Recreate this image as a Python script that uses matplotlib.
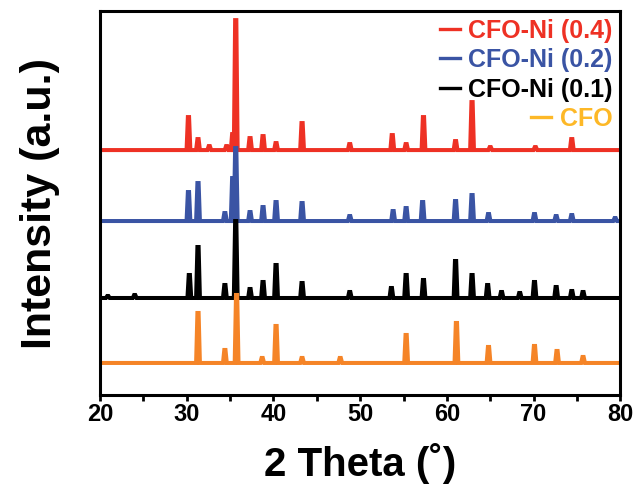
import numpy as np
import matplotlib
matplotlib.use('Agg')
import matplotlib.pyplot as plt

plt.rcParams['font.family'] = ['Liberation Sans', 'DejaVu Sans']
plt.rcParams['font.weight'] = 'bold'

# peak positions (2 theta) and heights above each baseline (a.u.)
labels = ['CFO-Ni (0.4)', 'CFO-Ni (0.2)', 'CFO-Ni (0.1)', 'CFO']
offsets = [245, 174, 97, 32]

pos_04 = [30.2, 31.3, 32.6, 34.6, 35.3, 35.65, 37.3, 38.8, 40.3, 43.3, 48.8,
          53.7, 55.3, 57.3, 61.0, 62.9, 65.0, 70.2, 74.4]
h_04 = [33, 11, 4, 4, 16, 130, 12, 14, 7, 27, 6,
        15, 6, 33, 9, 48, 3, 3, 11]

pos_02 = [30.2, 31.3, 34.4, 35.3, 35.65, 37.3, 38.8, 40.3, 43.3, 48.8,
          53.8, 55.3, 57.2, 61.0, 62.9, 64.8, 70.1, 72.6, 74.4, 79.4]
h_02 = [29, 38, 8, 43, 73, 9, 14, 19, 18, 5,
        10, 13, 19, 20, 26, 7, 7, 5, 6, 3]

pos_01 = [20.9, 24.0, 30.3, 31.3, 34.4, 35.65, 37.3, 38.8, 40.3, 43.3, 48.8,
          53.6, 55.3, 57.3, 61.0, 62.9, 64.7, 66.3, 68.4, 70.1, 72.6, 74.4, 75.7]
h_01 = [2, 3, 23, 51, 13, 77, 9, 16, 33, 15, 6,
        10, 23, 18, 37, 23, 13, 6, 5, 16, 11, 7, 6]

pos_cfo = [31.3, 34.4, 35.75, 38.7, 40.3, 43.3, 47.7, 55.3, 61.1, 64.8,
           70.1, 72.7, 75.7]
h_cfo = [50, 13, 68, 5, 37, 5, 5, 28, 40, 16, 17, 12, 6]

line_colors = ['#EE3124', '#3A54A4', '#000000', '#F58427']
legend_colors = ['#EE3124', '#3A54A4', '#000000', '#FDB827']


def pattern(pos, h, base, lo=20, hi=80, hw=0.22, top=0.07):
    """polyline of narrow peaks sitting on a flat baseline"""
    xs, ys = [lo], [base]
    for p, v in sorted(zip(pos, h)):
        xs += [p - hw, p - top, p + top, p + hw]
        ys += [base, base + v, base + v, base]
    xs.append(hi)
    ys.append(base)
    return np.array(xs), np.array(ys)


fig = plt.figure(figsize=(6.33, 4.84), dpi=100)
ax = fig.add_axes([0.158, 0.184, 0.822, 0.793])

series = [(pos_04, h_04), (pos_02, h_02), (pos_01, h_01), (pos_cfo, h_cfo)]
for (pos, h), off, c, lab in zip(series, offsets, line_colors, labels):
    x, y = pattern(pos, h, off)
    ax.plot(x, y, color=c, lw=2.9, label=lab, solid_joinstyle='miter')

ax.set_xlim(20, 80)
ax.set_ylim(0, 384)
ax.set_xticks(np.arange(20, 81, 10))
ax.set_xticks(np.arange(25, 80, 10), minor=True)
ax.set_yticks([])
ax.tick_params(axis='x', which='both', direction='out', length=4, width=2,
               labelsize=17, pad=2)
for lab in ax.get_xticklabels():
    lab.set_fontweight('bold')
for sp in ax.spines.values():
    sp.set_linewidth(2.2)

ax.set_xlabel('2 Theta (\u02da)', fontsize=29, fontweight='bold', labelpad=12)
ax.set_ylabel('Intensity (a.u.)', fontsize=31, fontweight='bold', labelpad=29)

leg = ax.legend(loc='upper right', frameon=False, fontsize=18,
                handlelength=0.8, handletextpad=0.35, labelspacing=0.22,
                borderpad=0.15, borderaxespad=0.15)
for t, c in zip(leg.get_texts(), legend_colors):
    t.set_color(c)
    t.set_fontweight('bold')
for hnd, c in zip(leg.legend_handles, legend_colors):
    hnd.set_color(c)
    hnd.set_linewidth(2.4)
# right-align the legend rows
for col in leg._legend_handle_box.get_children():
    col.align = 'right'

fig.savefig('out.png', dpi=100)
